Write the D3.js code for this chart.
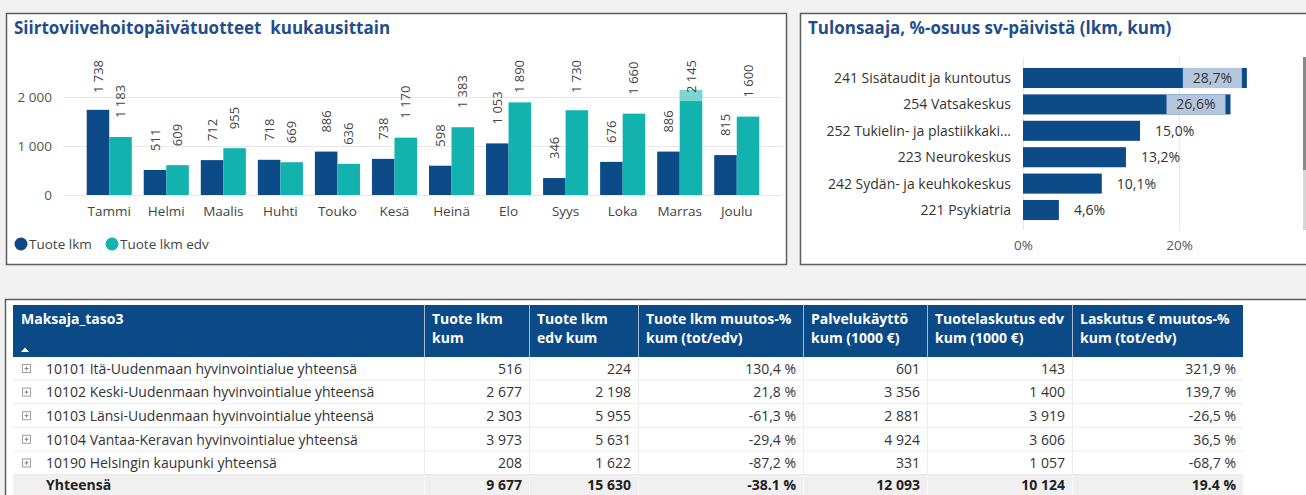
<!DOCTYPE html>
<html>
<head>
<meta charset="utf-8">
<script src="https://cdn.jsdelivr.net/npm/d3@7"></script>
<style>
  body { margin: 0; background: #f2f2f2; }
  svg { display: block; font-family: "Open Sans", "Noto Sans", sans-serif; }
  .title { font-weight: 700; font-size: 17px; fill: #1f4e8c; white-space: pre; }
  .axis text { font-size: 13.5px; fill: #555; font-family: "Open Sans", sans-serif; }
  .axis .domain { display: none; }
  .axis .tick line { stroke: #e8e8e8; }
  .bar-label { font-size: 13px; fill: #444; }
  .legend text { font-size: 13.5px; fill: #444; }
  .cat-label { font-size: 14px; fill: #333; }
  .th { font-size: 14px; font-weight: 700; fill: #fff; }
  .td { font-size: 14px; fill: #333; }
  .total .td { font-weight: 700; fill: #222; }
</style>
</head>
<body>
<svg id="root" width="1306" height="495"></svg>
<script>
// --- kuukausittaiset tuotteet
const months = ["Tammi", "Helmi", "Maalis", "Huhti", "Touko", "Kesä", "Heinä", "Elo", "Syys", "Loka", "Marras", "Joulu"]
const tuoteLkm = [1738, 511, 712, 718, 886, 738, 598, 1053, 346, 676, 886, 815]
const tuoteLkmEdv = [1183, 609, 955, 669, 636, 1170, 1383, 1890, 1730, 1660, 2145, 1600]
const monthTicks = [0, 1000, 2000]
const seriesNames = ["Tuote lkm", "Tuote lkm edv"]

// --- tulonsaajat
const units = ["241 Sisätaudit ja kuntoutus", "254 Vatsakeskus", "252 Tukielin- ja plastiikkakirurgia",
  "223 Neurokeskus", "242 Sydän- ja keuhkokeskus", "221 Psykiatria"]
const osuus = [28.7, 26.6, 15.0, 13.2, 10.1, 4.6]
const shareTicks = [0, 20]

// --- taulukko
const tableHeaders = [["Maksaja_taso3"], ["Tuote lkm", "kum"], ["Tuote lkm", "edv kum"],
  ["Tuote lkm muutos-%", "kum (tot/edv)"], ["Palvelukäyttö", "kum (1000 €)"],
  ["Tuotelaskutus edv", "kum (1000 €)"], ["Laskutus € muutos-%", "kum (tot/edv)"]]
const regions = ["10101 Itä-Uudenmaan hyvinvointialue yhteensä", "10102 Keski-Uudenmaan hyvinvointialue yhteensä",
  "10103 Länsi-Uudenmaan hyvinvointialue yhteensä", "10104 Vantaa-Keravan hyvinvointialue yhteensä",
  "10190 Helsingin kaupunki yhteensä"]
const tuoteKum = [516, 2677, 2303, 3973, 208]
const tuoteEdvKum = [224, 2198, 5955, 5631, 1622]
const tuoteMuutos = [130.4, 21.8, -61.3, -29.4, -87.2]
const palvelukaytto = [601, 3356, 2881, 4924, 331]
const laskutusEdv = [143, 1400, 3919, 3606, 1057]
const laskutusMuutos = [321.9, 139.7, -26.5, 36.5, -68.7]
const totals = ["Yhteensä", 9677, 15630, -38.1, 12093, 10124, 19.4]

const colors = { dark: "#0d4a88", teal: "#12b2ae", header: "#0b4a86", light: "#b3c6dd" }

const loc = d3.formatLocale({ decimal: ",", thousands: "\u00a0", grouping: [3], currency: ["", ""], minus: "-" })
const fmtInt = loc.format(",d")
const fmtPct = v => loc.format(".1f")(v) + "\u00a0%"
const fmtShare = v => loc.format(".1f")(v) + "%"
// summarivin prosentit näkyvät raportissa pisteellä
const fmtTotalPct = v => d3.formatLocale({ decimal: ".", thousands: ",", grouping: [3], currency: ["", ""], minus: "-" })
  .format(".1f")(v) + "\u00a0%"

const svg = d3.select("#root")

const panel = (x, y, w, h) => svg.append("rect")
  .attr("x", x).attr("y", y).attr("width", w).attr("height", h)
  .attr("fill", "#fff").attr("stroke", "#5e5e5e").attr("stroke-width", 1.5)

panel(6.5, 13.5, 780, 251)
panel(800.5, 13.5, 540, 251)
panel(5.5, 299.5, 1340, 240)

function monthChart() {
  const g = svg.append("g").attr("class", "month-chart")
  g.append("text").attr("class", "title").attr("x", 14).attr("y", 34)
    .text("Siirtoviivehoitopäivätuotteet  kuukausittain")

  const x = d3.scaleBand().domain(months).range([81, 765]).paddingInner(0.21).paddingOuter(0.1)
  const sub = d3.scaleBand().domain(seriesNames).range([0, x.bandwidth()])
  const y = d3.scaleLinear().domain([0, 2000]).range([195, 97])
  const c = d3.scaleOrdinal().domain(seriesNames).range([colors.dark, colors.teal])

  g.append("g").attr("class", "axis axis-y")
    .attr("transform", "translate(63,0)")
    .call(d3.axisLeft(y).tickValues(monthTicks).tickFormat(fmtInt).tickSize(-719).tickPadding(11))

  g.append("g").attr("class", "axis axis-x")
    .attr("transform", "translate(0,195)")
    .call(d3.axisBottom(x).tickSize(0).tickPadding(11))
    .selectAll("text").style("fill", "#444")

  const pts = months.flatMap((m, i) => [
    { m, s: seriesNames[0], v: tuoteLkm[i] },
    { m, s: seriesNames[1], v: tuoteLkmEdv[i] }
  ])

  g.selectAll(".bar").data(pts).enter().append("rect")
    .attr("class", "bar")
    .attr("x", d => x(d.m) + sub(d.s))
    .attr("y", d => y(d.v))
    .attr("width", sub.bandwidth())
    .attr("height", d => y(0) - y(d.v))
    .attr("fill", d => c(d.s))

  const labels = g.selectAll(".bar-label").data(pts).enter().append("text")
    .attr("class", "bar-label")
    .attr("dy", "0.35em")
    .text(d => fmtInt(d.v))

  labels.each(function (d) {
    const len = this.getComputedTextLength()
    const cx = x(d.m) + sub(d.s) + sub.bandwidth() / 2
    let base = y(d.v) - 19
    if (base - len < 60) {
      base = 60 + len
      // label would leave the plot: it is pulled onto the bar with a light backdrop
      const top = y(d.v), bottom = base + 8
      if (bottom > top) {
        g.insert("rect", ".bar-label")
          .attr("x", x(d.m) + sub(d.s)).attr("y", top)
          .attr("width", sub.bandwidth()).attr("height", bottom - top)
          .attr("fill", "#fff").attr("opacity", 0.45)
      }
    }
    d3.select(this).attr("transform", `translate(${cx},${base})rotate(-90)`)
  })

  const legend = g.append("g").attr("class", "legend")
  const lx = [21, 112]
  seriesNames.forEach((s, i) => {
    legend.append("circle").attr("cx", lx[i]).attr("cy", 244).attr("r", 6.5).attr("fill", c(s))
    legend.append("text").attr("x", lx[i] + 8).attr("y", 249).text(s)
  })
}

function shareChart() {
  const g = svg.append("g").attr("class", "share-chart")
  g.append("text").attr("class", "title").attr("x", 808).attr("y", 34)
    .text("Tulonsaaja, %-osuus sv-päivistä (lkm, kum)")

  const y = d3.scaleBand().domain(units).range([64.8, 223.2]).paddingInner(0.24).paddingOuter(0.12)
  const x = d3.scaleLinear().domain([0, 35]).range([1023, 1296])

  const ax = g.append("g").attr("class", "axis axis-x")
    .attr("transform", "translate(0,230)")
    .call(d3.axisBottom(x).tickValues(shareTicks).tickFormat(d => d + "%").tickSize(-173).tickPadding(10))
  ax.selectAll(".tick line").attr("stroke", "#ececec")

  g.selectAll(".cat-label").data(units).enter().append("text")
    .attr("class", "cat-label")
    .attr("x", 1011).attr("y", d => y(d) + y.bandwidth() / 2).attr("dy", "0.35em")
    .attr("text-anchor", "end")
    .text(d => d)
    .each(function (d) {
      const el = d3.select(this)
      let t = d
      while (this.getComputedTextLength() > 186 && t.length > 3) {
        t = t.slice(0, -1)
        el.text(t.trimEnd() + "...")
      }
    })

  const rows = units.map((u, i) => ({ u, v: osuus[i] }))
  g.selectAll(".bar").data(rows).enter().append("rect")
    .attr("class", "bar")
    .attr("x", x(0)).attr("y", d => y(d.u))
    .attr("width", d => x(d.v) - x(0)).attr("height", y.bandwidth())
    .attr("fill", colors.dark)

  rows.forEach(d => {
    const t = g.append("text").attr("class", "cat-label")
      .attr("y", y(d.u) + y.bandwidth() / 2).attr("dy", "0.35em")
      .text(fmtShare(d.v))
    const len = t.node().getComputedTextLength()
    const end = x(d.v)
    if (end + 15 + len > 1275) {
      g.insert("rect", () => t.node())
        .attr("x", end - 64).attr("y", y(d.u))
        .attr("width", 59).attr("height", y.bandwidth())
        .attr("fill", colors.light)
      t.attr("x", end - 34.5).attr("text-anchor", "middle")
    } else {
      t.attr("x", end + 15)
    }
  })

  // vierityspalkki
  g.append("rect").attr("x", 1303).attr("y", 57).attr("width", 3).attr("height", 113).attr("fill", "#8a8a8a")
  g.append("rect").attr("x", 1303).attr("y", 170).attr("width", 3).attr("height", 60).attr("fill", "#d6d6d6")
}

function table() {
  const g = svg.append("g").attr("class", "table")
  const edges = [13, 424, 529, 638, 803, 927, 1072, 1243]
  const headTop = 305, headBottom = 357, rowH = 23.6

  g.append("rect").attr("x", edges[0]).attr("y", headTop)
    .attr("width", edges[7] - edges[0]).attr("height", headBottom - headTop)
    .attr("fill", colors.header)

  tableHeaders.forEach((lines, i) => {
    if (i > 0) {
      g.append("line").attr("x1", edges[i] + 0.5).attr("x2", edges[i] + 0.5)
        .attr("y1", headTop).attr("y2", headBottom).attr("stroke", "#a9b9cc")
    }
    const t = g.append("text").attr("class", "th").attr("x", edges[i] + 8).attr("y", 324)
    lines.forEach((l, k) => t.append("tspan").attr("x", edges[i] + 8).attr("dy", k ? 19 : 0).text(l))
  })
  g.append("path").attr("d", "M21,352 L25,347.5 L29,352 Z").attr("fill", "#fff")

  const body = regions.map((r, i) => [r, fmtInt(tuoteKum[i]), fmtInt(tuoteEdvKum[i]), fmtPct(tuoteMuutos[i]),
    fmtInt(palvelukaytto[i]), fmtInt(laskutusEdv[i]), fmtPct(laskutusMuutos[i])])
  const totalRow = totals.map((v, i) => i === 0 ? v : (i === 3 || i === 6) ? fmtTotalPct(v) : fmtInt(v))

  const allRows = body.concat([totalRow])
  allRows.forEach((cells, r) => {
    const top = headBottom + r * rowH
    const isTotal = r === allRows.length - 1
    const rg = g.append("g").attr("class", isTotal ? "total" : "row")
    if (isTotal) {
      rg.append("rect").attr("x", edges[0]).attr("y", top).attr("width", edges[7] - edges[0])
        .attr("height", rowH).attr("fill", "#f0f0f0")
    } else {
      rg.append("line").attr("x1", edges[0]).attr("x2", edges[7])
        .attr("y1", top + rowH - 0.5).attr("y2", top + rowH - 0.5).attr("stroke", "#ececec")
      rg.append("rect").attr("x", 22.5).attr("y", top + 7.5).attr("width", 8).attr("height", 8)
        .attr("fill", "none").attr("stroke", "#a0a0a0")
      rg.append("path").attr("d", `M24.5,${top + 11.5}h4M26.5,${top + 9.5}v4`).attr("stroke", "#888")
    }
    edges.slice(1, 7).forEach(e => rg.append("line")
      .attr("x1", e + 0.5).attr("x2", e + 0.5).attr("y1", top).attr("y2", top + rowH)
      .attr("stroke", isTotal ? "#fafafa" : "#ececec"))
    cells.forEach((v, i) => {
      rg.append("text").attr("class", "td")
        .attr("x", i === 0 ? 46 : edges[i + 1] - 7)
        .attr("y", top + rowH / 2 - (isTotal ? 2 : 0)).attr("dy", "0.35em")
        .attr("text-anchor", i === 0 ? "start" : "end")
        .text(v)
    })
  })
}

monthChart()
shareChart()
table()
</script>
</body>
</html>
